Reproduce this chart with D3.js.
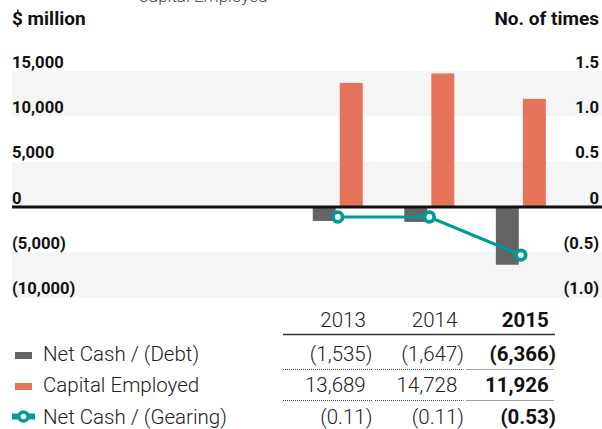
<!DOCTYPE html>
<html>
<head>
<meta charset="utf-8">
<script src="https://cdn.jsdelivr.net/npm/d3@7"></script>
<style>
  body { margin: 0; background: #fff; }
  svg { display: block; }
  text { font-family: Roboto, "Noto Sans", sans-serif; }
</style>
</head>
<body>
<svg id="chart" width="602" height="429"></svg>
<script>
// Series
const years = ["2013", "2014", "2015"];
const netCash = [-1535, -1647, -6366];
const capitalEmployed = [13689, 14728, 11926];
const gearing = [-0.11, -0.11, -0.53];

// Axis ticks
const leftTicks = [15000, 10000, 5000, 0, -5000, -10000];
const rightTicks = [1.5, 1.0, 0.5, 0, -0.5, -1.0];

const seriesNames = ["Net Cash / (Debt)", "Capital Employed", "Net Cash / (Gearing)"];
const colors = { debt: "#646464", capital: "#e5735a", gearing: "#009a9a" };

const svg = d3.select("#chart");
const W = 602;

const y = d3.scaleLinear().domain([-10000, 15000]).range([297.7, 71]);
const yR = d3.scaleLinear().domain([-1.0, 1.5]).range([297.7, 71]);

const x = d3.scaleBand().domain(years).range([292, 566.6])
  .paddingInner(0.4537).paddingOuter(0.2268);
const xSub = d3.scaleBand().domain(["debt", "capital"])
  .range([0, x.bandwidth()]).paddingInner(0.15);

const fmtMoney = d => d < 0 ? `(${d3.format(",")(-d)})` : d3.format(",")(d);
const fmtRatio = d => d === 0 ? "0" : (d < 0 ? `(${d3.format(".1f")(-d)})` : d3.format(".1f")(d));

// Alternating background bands
const bands = [];
for (let i = 0; i + 1 < leftTicks.length; i += 2) bands.push([leftTicks[i], leftTicks[i + 1]]);
svg.append("g").selectAll("rect").data(bands).join("rect")
  .attr("x", 12).attr("width", W - 12)
  .attr("y", d => y(d[0])).attr("height", d => y(d[1]) - y(d[0]))
  .attr("fill", "#f5f5f5");

// Label running off the top edge
svg.append("text").attr("x", 138).attr("y", 2)
  .attr("font-size", 17).attr("font-weight", 300).attr("fill", "#444")
  .text("Capital Employed");

// Axis titles
svg.append("text").attr("x", 12).attr("y", 25)
  .attr("font-size", 19).attr("font-weight", 700).attr("fill", "#111")
  .text("$ million");
svg.append("text").attr("x", 599).attr("y", 25).attr("text-anchor", "end")
  .attr("font-size", 19).attr("font-weight", 700).attr("fill", "#111")
  .text("No. of times");

// Left axis
const gl = svg.append("g").attr("transform", "translate(12,0)")
  .call(d3.axisLeft(y).tickValues(leftTicks).tickFormat(fmtMoney).tickSize(0));
gl.select(".domain").remove();
gl.selectAll("text")
  .attr("x", 0).attr("text-anchor", "start")
  .attr("font-size", 16.6).attr("font-weight", 700).attr("fill", "#111");

// Right axis
const gr = svg.append("g").attr("transform", "translate(599,0)")
  .call(d3.axisRight(yR).tickValues(rightTicks).tickFormat(fmtRatio).tickSize(0));
gr.select(".domain").remove();
gr.selectAll("text")
  .attr("x", 0).attr("text-anchor", "end")
  .attr("font-size", 16.6).attr("font-weight", 700).attr("fill", "#111");
svg.selectAll(".tick text").attr("dy", null).attr("transform", "translate(0,-4)");

// Bars
const groups = svg.append("g").selectAll("g").data(years).join("g")
  .attr("transform", d => `translate(${x(d)},0)`);
groups.append("rect")
  .attr("x", xSub("debt")).attr("width", xSub.bandwidth())
  .attr("y", (d, i) => y(Math.max(0, netCash[i])))
  .attr("height", (d, i) => Math.abs(y(netCash[i]) - y(0)))
  .attr("fill", colors.debt);
groups.append("rect")
  .attr("x", xSub("capital")).attr("width", xSub.bandwidth())
  .attr("y", (d, i) => y(Math.max(0, capitalEmployed[i])))
  .attr("height", (d, i) => Math.abs(y(capitalEmployed[i]) - y(0)))
  .attr("fill", colors.capital);

// Zero line
svg.append("line").attr("x1", 12).attr("x2", W)
  .attr("y1", y(0)).attr("y2", y(0))
  .attr("stroke", "#111").attr("stroke-width", 2.8);

// Gearing line with markers
const cx = (d, i) => x(years[i]) + x.bandwidth() / 2;
const line = d3.line().x((d, i) => cx(d, i)).y(d => yR(d));
svg.append("path").datum(gearing).attr("d", line)
  .attr("fill", "none").attr("stroke", colors.gearing).attr("stroke-width", 3.2);
svg.append("g").selectAll("circle").data(gearing).join("circle")
  .attr("cx", cx).attr("cy", d => yR(d)).attr("r", 4.8)
  .attr("fill", "#fff").attr("stroke", colors.gearing).attr("stroke-width", 3.8);

// Data table
const colX = years.map(yr => x(yr) + x.bandwidth() / 2 + 28);
const tableLeft = 283, tableRight = 555;
const tbl = svg.append("g").attr("font-size", 20.5).attr("fill", "#222");

// header
tbl.selectAll("text.hdr").data(years).join("text").attr("class", "hdr")
  .attr("x", (d, i) => colX[i]).attr("y", 327).attr("text-anchor", "end")
  .attr("font-weight", (d, i) => i === years.length - 1 ? 700 : 300)
  .attr("fill", (d, i) => i === years.length - 1 ? "#111" : "#222")
  .text(d => d);
svg.append("line").attr("x1", tableLeft).attr("x2", tableRight)
  .attr("y1", 334.5).attr("y2", 334.5).attr("stroke", "#333").attr("stroke-width", 1.5);

const rows = [
  { vals: netCash, fmt: fmtMoney, y: 361 },
  { vals: capitalEmployed, fmt: fmtMoney, y: 392 },
  { vals: gearing, fmt: d => d < 0 ? `(${d3.format(".2f")(-d)})` : d3.format(".2f")(d), y: 423.5 }
];
rows.forEach(r => {
  r.vals.forEach((v, i) => {
    const s = r.fmt(v);
    const neg = s.endsWith(")");
    const bold = i === years.length - 1;
    const t = tbl.append("text").attr("y", r.y)
      .attr("font-weight", bold ? 700 : 300)
      .attr("fill", bold ? "#111" : "#222");
    if (neg) {
      // closing parenthesis hangs past the column edge
      t.attr("x", colX[i]).attr("text-anchor", "end").text(s.slice(0, -1));
      tbl.append("text").attr("x", colX[i]).attr("y", r.y)
        .attr("font-weight", bold ? 700 : 300).attr("fill", bold ? "#111" : "#222")
        .text(")");
    } else {
      t.attr("x", colX[i]).attr("text-anchor", "end").text(s);
    }
  });
});

// dotted row separators, broken between columns
[369.5, 400.5].forEach(yy => {
  const edges = [tableLeft, (colX[0] + colX[1]) / 2 - 38, (colX[1] + colX[2]) / 2 - 38, tableRight];
  for (let k = 0; k < 3; k++) {
    svg.append("line").attr("x1", edges[k] + (k ? 1.5 : 0)).attr("x2", edges[k + 1] - 1.5)
      .attr("y1", yy).attr("y2", yy)
      .attr("stroke", "#444").attr("stroke-width", 1).attr("stroke-dasharray", "1,1");
  }
});

// Legend
const lg = svg.append("g");
lg.append("rect").attr("x", 15).attr("y", 352).attr("width", 17).attr("height", 7).attr("fill", colors.debt);
lg.append("rect").attr("x", 15).attr("y", 383).attr("width", 17).attr("height", 7).attr("fill", colors.capital);
lg.append("line").attr("x1", 12).attr("x2", 35).attr("y1", 416.5).attr("y2", 416.5)
  .attr("stroke", colors.gearing).attr("stroke-width", 6);
lg.append("circle").attr("cx", 23.5).attr("cy", 416.5).attr("r", 4.5)
  .attr("fill", "#fff").attr("stroke", colors.gearing).attr("stroke-width", 3.5);
lg.selectAll("text").data(seriesNames).join("text")
  .attr("x", 43).attr("y", (d, i) => rows[i].y)
  .attr("font-size", 20.5).attr("font-weight", 300).attr("fill", "#222")
  .text(d => d);
</script>
</body>
</html>
